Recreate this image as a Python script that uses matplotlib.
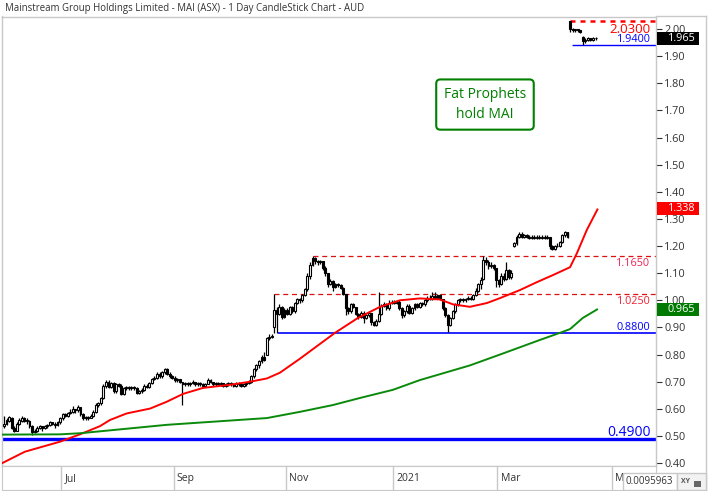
import numpy as np
import pandas as pd
import matplotlib
matplotlib.use('Agg')
import matplotlib.pyplot as plt
from matplotlib.patches import Rectangle
from matplotlib.lines import Line2D
import matplotlib.transforms as mtransforms

plt.rcParams['font.family'] = ['Open Sans', 'DejaVu Sans']

title = "Mainstream Group Holdings Limited - MAI (ASX) - 1 Day CandleStick Chart - AUD"
start_date = '2020-05-29'
holidays = ['2020-12-25', '2020-12-28']
month_labels = {7: 'Jul', 9: 'Sep', 11: 'Nov', 1: '2021', 3: 'Mar', 5: 'May'}

opens = [
    .535, .545, .555, .565, .53, .52, .545, .555, .565, .555,
    .555, .535, .515, .52, .53, .535, .53, .535, .54, .55,
    .545, .54, .55, .565, .58, .575, .585, .59, .6, .595,
    .605, .58, .565, .57, .565, .575, .59, .615, .62, .64,
    .685, .70, .68, .695, .665, .69, .685, .655, .675, .68,
    .675, .68, .675, .66, .665, .67, .685, .68, .695, .71,
    .715, .73, .72, .735, .745, .73, .72, .715, .705, .71,
    .70, .69, .695, .69, .695, .70, .69, .695, .69, .685,
    .69, .705, .70, .69, .695, .69, .695, .685, .69, .695,
    .69, .685, .695, .69, .685, .69, .695, .70, .72, .745,
    .76, .775, .79, .80, .86, .865, .90, .965, .95, .975,
    .94, .965, .95, .975, .96, .99, 1.005, 1.00, 1.02, 1.04,
    1.09, 1.13, 1.155, 1.145, 1.14, 1.145, 1.12, 1.10, 1.06, 1.07,
    1.05, 1.06, 1.055, 1.045, 1.025, .97, .96, .985, .975, .95,
    .94, .955, .935, .945, .955, .92, .91, .925, .95, .98,
    .985, .97, .99, .995, .99, .995, .97, .945, .96, .98,
    .955, .97, .985, .975, .99, .985, 1.00, 1.01, 1.005, 1.015,
    1.01, 1.02, 1.005, .97, .945, .91, .935, .96, .985, 1.0,
    1.005, 1.0, 1.005, 1.01, 1.005, 1.02, 1.035, 1.06, 1.08, 1.15,
    1.14, 1.125, 1.13, 1.12, 1.075, 1.06, 1.09, 1.08, 1.11, 1.085,
    1.20, 1.21, 1.235, 1.245, 1.235, 1.24, 1.235, 1.23, 1.235, 1.23,
    1.235, 1.23, 1.235, 1.23, 1.235, 1.20, 1.19, 1.20, 1.20, 1.215,
    1.24, 1.25, 2.03, 2.00, 1.995, 2.00, 1.995, 1.97, 1.955, 1.96,
    1.965, 1.96, 1.965]

highs = [
    .575, .565, .575, .57, .535, .55, .565, .575, .57, .565,
    .56, .54, .525, .535, .54, .535, .54, .545, .555, .55,
    .55, .555, .57, .585, .585, .59, .60, .61, .60, .615,
    .605, .585, .575, .575, .58, .595, .62, .625, .645, .69,
    .705, .705, .70, .70, .695, .695, .69, .68, .685, .685,
    .685, .685, .68, .67, .675, .69, .69, .70, .715, .72,
    .735, .735, .74, .75, .75, .735, .725, .72, .715, .71,
    .70, .70, .70, .70, .705, .70, .70, .70, .695, .695,
    .715, .71, .70, .70, .70, .70, .695, .695, .70, .70,
    .695, .70, .70, .695, .695, .70, .705, .725, .75, .765,
    .78, .80, .81, .865, .875, .875, 1.025, .975, .985, .98,
    .97, .97, .98, .98, .995, 1.01, 1.01, 1.025, 1.045, 1.10,
    1.14, 1.165, 1.16, 1.15, 1.15, 1.145, 1.125, 1.10, 1.08, 1.075,
    1.065, 1.065, 1.06, 1.05, 1.025, .975, .99, .99, .975, .955,
    .96, .96, .95, .96, .955, .925, .93, 1.03, .985, .995,
    .99, 1.0, 1.0, 1.0, 1.0, 1.0, .975, .965, .985, .985,
    .975, .99, .99, .995, .995, 1.005, 1.015, 1.02, 1.03, 1.03,
    1.025, 1.025, 1.005, .975, .95, .94, .965, .99, 1.005, 1.01,
    1.01, 1.01, 1.015, 1.015, 1.025, 1.045, 1.065, 1.085, 1.165, 1.16,
    1.15, 1.14, 1.135, 1.12, 1.08, 1.10, 1.10, 1.14, 1.115, 1.11,
    1.215, 1.24, 1.25, 1.25, 1.245, 1.245, 1.24, 1.24, 1.24, 1.24,
    1.24, 1.24, 1.24, 1.24, 1.235, 1.205, 1.205, 1.21, 1.22, 1.245,
    1.255, 1.25, 2.03, 2.005, 2.0, 2.0, 1.995, 1.975, 1.965, 1.97,
    1.965, 1.97, 1.97]

lows = [
    .53, .54, .55, .525, .515, .52, .54, .55, .55, .545,
    .53, .505, .51, .515, .525, .52, .525, .53, .535, .54,
    .53, .535, .545, .56, .57, .57, .58, .585, .585, .59,
    .575, .56, .56, .56, .565, .57, .585, .605, .615, .635,
    .675, .675, .675, .66, .66, .68, .65, .65, .67, .67,
    .67, .67, .655, .655, .66, .665, .675, .675, .69, .705,
    .71, .715, .715, .73, .725, .715, .71, .70, .70, .695,
    .615, .685, .685, .685, .69, .685, .685, .685, .68, .68,
    .69, .695, .685, .685, .685, .685, .68, .68, .685, .685,
    .68, .68, .685, .68, .68, .685, .69, .695, .715, .74,
    .75, .77, .775, .80, .855, .86, .88, .88, .945, .93,
    .935, .945, .945, .955, .955, .985, .99, .995, 1.015, 1.035,
    1.08, 1.125, 1.135, 1.13, 1.135, 1.11, 1.09, 1.05, 1.055, 1.035,
    1.045, 1.05, 1.04, 1.02, .945, .95, .955, .97, .945, .93,
    .935, .915, .93, .94, .91, .905, .905, .92, .945, .975,
    .965, .965, .985, .985, .985, .965, .935, .94, .955, .95,
    .95, .965, .97, .97, .98, .98, .995, 1.0, 1.0, 1.005,
    1.005, 1.0, .965, .94, .883, .905, .93, .955, .98, .995,
    .995, .995, 1.0, 1.0, 1.0, 1.015, 1.03, 1.04, 1.075, 1.13,
    1.115, 1.12, 1.11, 1.05, 1.05, 1.055, 1.07, 1.075, 1.08, 1.08,
    1.195, 1.205, 1.23, 1.23, 1.23, 1.23, 1.225, 1.225, 1.225, 1.225,
    1.225, 1.225, 1.225, 1.225, 1.19, 1.185, 1.185, 1.195, 1.195, 1.21,
    1.235, 1.23, 1.99, 1.99, 1.99, 1.99, 1.985, 1.94, 1.95, 1.955,
    1.955, 1.955, 1.96]

closes = [
    .545, .56, .57, .53, .52, .545, .56, .565, .555, .56,
    .535, .515, .52, .53, .535, .53, .535, .54, .55, .545,
    .54, .55, .565, .58, .575, .585, .59, .60, .595, .605,
    .58, .565, .57, .565, .575, .59, .615, .62, .64, .685,
    .70, .68, .695, .665, .69, .685, .655, .675, .68, .675,
    .68, .675, .66, .665, .67, .685, .68, .695, .71, .715,
    .73, .72, .735, .745, .73, .72, .715, .705, .71, .70,
    .69, .695, .69, .695, .70, .69, .695, .69, .685, .69,
    .705, .70, .69, .695, .69, .695, .685, .69, .695, .69,
    .685, .695, .69, .685, .69, .695, .70, .72, .745, .76,
    .775, .79, .78, .86, .865, .87, .965, .95, .975, .94,
    .965, .95, .975, .96, .99, 1.005, 1.00, 1.02, 1.04, 1.09,
    1.13, 1.155, 1.145, 1.14, 1.145, 1.12, 1.10, 1.06, 1.07, 1.05,
    1.06, 1.055, 1.045, 1.025, .97, .96, .985, .975, .95, .94,
    .955, .935, .945, .955, .92, .91, .925, .95, .98, .985,
    .97, .99, .995, .99, .995, .97, .945, .96, .98, .955,
    .97, .985, .975, .99, .985, 1.00, 1.01, 1.005, 1.015, 1.01,
    1.02, 1.005, .97, .945, .91, .935, .96, .985, 1.0, 1.005,
    1.0, 1.005, 1.01, 1.005, 1.02, 1.035, 1.06, 1.075, 1.15, 1.14,
    1.125, 1.13, 1.12, 1.075, 1.06, 1.09, 1.08, 1.11, 1.085, 1.10,
    1.21, 1.235, 1.245, 1.235, 1.24, 1.235, 1.23, 1.235, 1.23, 1.235,
    1.23, 1.235, 1.23, 1.235, 1.20, 1.19, 1.20, 1.20, 1.215, 1.24,
    1.25, 1.235, 2.00, 1.995, 2.00, 1.995, 1.99, 1.955, 1.96, 1.965,
    1.96, 1.965, 1.965]

# moving averages (day index, value)
fast_ma_idx = [-0.9, 8.2, 22, 29.8, 37.6, 41.6, 48.1, 57.3, 63.8, 70.2, 78, 89.8,
               96.5, 103.1, 108.2, 116.1, 125.9, 129.8, 138.8, 147.5, 155.3, 163.1,
               171, 176.1, 182.7, 189.4, 194.5, 202.4, 209, 215.3, 222, 224.7,
               228.6, 232.9]
fast_ma_val = [0.399, 0.442, 0.479, 0.506, 0.536, 0.559, 0.583, 0.601, 0.626, 0.655,
               0.677, 0.69, 0.70, 0.712, 0.733, 0.785, 0.853, 0.88, 0.935, 0.976,
               1.0, 1.007, 1.003, 0.985, 0.976, 0.99, 1.008, 1.038, 1.067, 1.093,
               1.122, 1.174, 1.26, 1.338]
slow_ma_idx = [-0.9, 22, 29.8, 63.8, 103.1, 116.1, 129, 139.6, 152.5, 163.1, 182.7,
               194.5, 210.2, 218, 222, 227, 232.9]
slow_ma_val = [0.505, 0.506, 0.51, 0.541, 0.566, 0.589, 0.614, 0.64, 0.67, 0.706,
               0.76, 0.80, 0.854, 0.88, 0.894, 0.935, 0.968]

level_values = [2.03, 1.94, 1.165, 1.025, 0.88, 0.49]
level_labels = ['2.0300', '1.9400', '1.1650', '1.0250', '0.8800', '0.4900']
level_start = [222, 222.7, 121.2, 105.9, 107.5, -0.9]

last_values = [1.965, 1.338, 0.965]
last_labels = ['1.965', '1.338', '0.965']
y_ticks = [0.40, 0.50, 0.60, 0.70, 0.80, 0.90, 1.00, 1.10, 1.20, 1.30, 1.40,
           1.50, 1.60, 1.70, 1.80, 1.90, 2.00]

# ---------------------------------------------------------------
W, H = 709, 491
fig = plt.figure(figsize=(W / 100, H / 100), dpi=100)
fig.patch.set_facecolor('white')
grey = '#c8c8c8'
txt = '#333333'

ax = fig.add_axes([2 / W, 1 - 466 / H, 654 / W, 449 / H])
xmin, xmax = -0.78, 255.7
ax.set_xlim(xmin, xmax)
ax.set_ylim(0.3893, 2.0442)
for s in ax.spines.values():
    s.set_color(grey)
    s.set_linewidth(1)
ax.set_xticks([])
ax.yaxis.tick_right()
ax.set_yticks(y_ticks)
ax.set_yticklabels(['%.2f' % v for v in y_ticks])
ax.tick_params(axis='y', direction='out', length=4, width=0.8, colors=txt,
               labelsize=7.8, pad=2)

o = np.array(opens); h = np.array(highs); l = np.array(lows); c = np.array(closes)
x = np.arange(len(c))
up = c >= o
ax.vlines(x, l, h, color='black', lw=0.9, zorder=3)
ax.bar(x[up], (c - o)[up], bottom=o[up], width=0.75, color='white',
       edgecolor='black', lw=0.8, zorder=4)
ax.bar(x[~up], (o - c)[~up], bottom=c[~up], width=0.75, color='black',
       edgecolor='black', lw=0.8, zorder=4)

ax.plot(fast_ma_idx, fast_ma_val, color='#ff0000', lw=1.4, zorder=5,
        solid_capstyle='butt')
ax.plot(slow_ma_idx, slow_ma_val, color='#0a8a0a', lw=1.4, zorder=5,
        solid_capstyle='butt')

styles = [
    dict(color='#ff0000', lw=1.8, ls=(0, (2, 2))),
    dict(color='#0000ff', lw=1.0, ls='-'),
    dict(color='#dd1111', lw=0.9, ls=(0, (4, 3))),
    dict(color='#dd1111', lw=0.9, ls=(0, (4, 3))),
    dict(color='#0000ff', lw=1.2, ls='-'),
    dict(color='#0000ff', lw=2.4, ls='-'),
]
lab_style = [
    dict(color='#ff0000', fontsize=9.5, va='top', dy=-1.5),
    dict(color='#0000ff', fontsize=7.8, va='bottom', dy=0),
    dict(color='#ee2255', fontsize=7.8, va='top', dy=-1.5),
    dict(color='#ee2233', fontsize=7.8, va='top', dy=-1.5),
    dict(color='#0000ff', fontsize=7.8, va='bottom', dy=0),
    dict(color='#0000ff', fontsize=10, va='bottom', dy=-1),
]
for val, lab, st, sty, lsty in zip(level_values, level_labels, level_start, styles, lab_style):
    ax.hlines(val, st, xmax, colors=sty['color'], lw=sty['lw'], linestyles=[sty['ls']], zorder=2)
    ax.annotate(lab, xy=(1, val), xycoords=('axes fraction', 'data'),
                xytext=(-4, lsty['dy']), textcoords='offset points',
                ha='right', va=lsty['va'], color=lsty['color'],
                fontsize=lsty['fontsize'], zorder=6)

# right-hand value boxes
bt = mtransforms.blended_transform_factory(ax.transAxes, ax.transData)
box_colors = ['#000000', '#ff0000', '#007a00']
for val, lab, col in zip(last_values, last_labels, box_colors):
    ax.add_patch(Rectangle((1.0015, val - 6.5 / 271.3), 42 / 654, 13 / 271.3,
                           transform=bt, facecolor=col, edgecolor='none',
                           clip_on=False, zorder=10))
    ax.text(666 / 654, val, lab, transform=bt, ha='left', va='center',
            color='white', fontsize=7.8, zorder=11, clip_on=False)

# annotation box
ax.text(0.7385, 0.805, 'Fat Prophets\nhold MAI', transform=ax.transAxes,
        ha='center', va='center', color='#008000', fontsize=10, linespacing=1.45,
        bbox=dict(boxstyle='round,pad=0.55,rounding_size=0.3', fc='white',
                  ec='#008000', lw=1.5), zorder=8)

# date band
cal = pd.bdate_range(start_date, '2021-06-30', freq='C', holidays=holidays)
axb = fig.add_axes([2 / W, 1 - 490 / H, 654 / W, 24 / H])
axb.set_xlim(xmin, xmax)
axb.set_ylim(0, 1)
axb.set_xticks([]); axb.set_yticks([])
for s in axb.spines.values():
    s.set_color(grey)
for i in range(1, len(cal)):
    if cal[i].month != cal[i - 1].month and cal[i].month in month_labels:
        b = i - 0.5
        if b > xmax:
            continue
        axb.axvline(b, color=grey, lw=1)
        axb.text(b + 1.3, 0.48, month_labels[cal[i].month], ha='left', va='center',
                 fontsize=7.5, color=txt, zorder=1, clip_on=True)

# outer frame pieces on the right
def fx(px):
    return px / W

def fy(py):
    return 1 - py / H

for (x0, y0, x1, y1) in [(656, 16, 706, 16), (706, 16, 706, 490), (656, 490, 706, 490),
                         (2, 16, 2, 17)]:
    fig.add_artist(Line2D([fx(x0), fx(x1)], [fy(y0), fy(y1)], color=grey, lw=1))

# coordinate readout box
fig.add_artist(Rectangle((fx(623), fy(490)), 54 / W, 17 / H, facecolor='white',
                         edgecolor=grey, lw=1, transform=fig.transFigure, zorder=20))
fig.text(fx(625), fy(481.5), '0.0095963', fontsize=7, color=txt, va='center',
         ha='left', zorder=21)
fig.add_artist(Rectangle((fx(677), fy(490)), 29 / W, 17 / H, facecolor='#f2f2f2',
                         edgecolor=grey, lw=1, transform=fig.transFigure, zorder=20))
fig.text(fx(681), fy(481.5), 'XY', fontsize=5, color='#555555', va='center',
         ha='left', weight='bold', zorder=21)
fig.add_artist(Rectangle((fx(694), fy(487)), 7 / W, 6 / H, facecolor='#666666',
                         edgecolor='none', transform=fig.transFigure, zorder=21))

fig.text(fx(5), fy(8), title, fontsize=6.9, color=txt, va='center', ha='left')

fig.savefig('out.png', dpi=100)
